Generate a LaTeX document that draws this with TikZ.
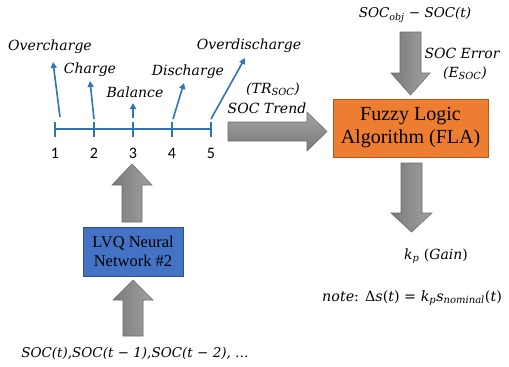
\documentclass[tikz,border=0pt]{standalone}
\usepackage{fontspec}
\setmainfont{Liberation Serif}
\newfontfamily\labfont{DejaVu Serif}
\newfontfamily\numfont{Carlito}
\usetikzlibrary{arrows.meta}
\definecolor{tlblue}{RGB}{46,117,182}
\definecolor{lvqfill}{RGB}{68,114,196}
\definecolor{lvqdraw}{RGB}{47,82,143}
\definecolor{flafill}{RGB}{237,125,49}
\definecolor{fladraw}{RGB}{174,90,33}
\definecolor{gdark}{RGB}{122,122,122}
\definecolor{glight}{RGB}{162,162,162}
\definecolor{gedge}{RGB}{108,108,108}
\begin{document}
\begin{tikzpicture}[x=1pt,y=-1pt,
  lab/.style={font=\labfont\itshape\fontsize{14}{16}\selectfont, inner sep=0pt},
  num/.style={font=\numfont\fontsize{16}{18}\selectfont, inner sep=0pt},
  tl/.style={draw=tlblue, line width=1.8pt},
  trend/.style={draw=tlblue, line width=1.6pt, -{Triangle[length=6pt,width=6pt]}},
  vblock/.style={draw=gedge, line width=0.6pt, left color=gdark, right color=glight},
  hblock/.style={draw=gedge, line width=0.6pt, top color=glight, bottom color=gdark},
  flabox/.style={draw=fladraw, line width=0.6pt, fill=flafill, minimum width=155pt, minimum height=58pt, align=center, font=\fontsize{20}{23}\selectfont, inner sep=0pt},
  lvqbox/.style={draw=lvqdraw, line width=0.6pt, fill=lvqfill, minimum width=100pt, minimum height=49pt, align=center, font=\fontsize{16.5}{19}\selectfont, inner sep=0pt}]
\useasboundingbox (0,0) rectangle (509,367);

% timeline
\foreach \i/\x in {1/55,2/94,3/133,4/172,5/211}{
  \coordinate (t\i) at (\x,129);
  \draw[tl] (\x,122) -- (\x,137);
  \node[num] (n\i) at (\x,153) {\i};
}
\draw[tl] (t1) -- (t5);

% trend arrows and labels
\coordinate (a1s) at (60,117); \coordinate (a1e) at (53,62);
\coordinate (a2s) at (94,119); \coordinate (a2e) at (90,81);
\coordinate (a3s) at (133,118); \coordinate (a3e) at (133,103);
\coordinate (a4s) at (173,119); \coordinate (a4e) at (184,83);
\coordinate (a5s) at (211,119); \coordinate (a5e) at (245,58);
\draw[trend] (a1s) -- (a1e);
\draw[trend] (a2s) -- (a2e);
\draw[trend] (a3s) -- (a3e);
\draw[trend] (a4s) -- (a4e);
\draw[trend] (a5s) -- (a5e);
\node[lab] (lov) at (50,47) {Overcharge};
\node[lab] (lch) at (90,70) {Charge};
\node[lab] (lba) at (135,92) {Balance};
\node[lab] (ldi) at (188,72) {Discharge};
\node[lab] (lod) at (249,46) {Overdischarge};

\node[lab] (trs) at (273,89) {(TR\textsubscript{SOC})};
\node[lab] (trd) at (267,108) {SOC Trend};

% FLA box
\node[flabox] (fla) at (410.5,128) {Fuzzy Logic\\Algorithm (FLA)};

% right block arrow
\draw[hblock] (228,122) -- (307,122) -- (307,112) -- (327,131.5) -- (307,151) -- (307,141) -- (228,141) -- cycle;

% top input
\node[lab, font=\labfont\itshape\fontsize{13.5}{16}\selectfont] (obj) at (415,15) {SOC\textsubscript{obj} − SOC(t)};
\draw[vblock] (400,32) -- (421,32) -- (421,73) -- (430,73) -- (410.5,95) -- (391,73) -- (400,73) -- cycle;
\node[lab] (err) at (462,53) {SOC Error};
\node[lab] (esoc) at (465,73) {(E\textsubscript{SOC})};

% output
\draw[vblock] (401,163) -- (422,163) -- (422,213) -- (432,213) -- (411.5,232) -- (391,213) -- (401,213) -- cycle;
\node[lab] (gain) at (436,256) {k\textsubscript{p} \upshape(\itshape Gain\upshape)};
\node[lab, anchor=west, font=\labfont\itshape\fontsize{14.3}{17}\selectfont] (note) at (322,298) {note\upshape: Δ\itshape s\upshape(\itshape t\upshape) = \itshape k\textsubscript{p}s\textsubscript{nominal}\upshape(\itshape t\upshape)};

% LVQ
\node[lvqbox] (lvq) at (133,251.5) {LVQ Neural\\Network \#2};
\draw[vblock] (122,222) -- (142,222) -- (142,185) -- (152,185) -- (132,164) -- (112,185) -- (122,185) -- cycle;
\draw[vblock] (123,336) -- (143,336) -- (143,300) -- (153,300) -- (133,280) -- (113,300) -- (123,300) -- cycle;
\node[lab, font=\labfont\itshape\fontsize{13.5}{16}\selectfont] (inp) at (135,353) {SOC(t),SOC(t − 1),SOC(t − 2), …};
\end{tikzpicture}
\end{document}
